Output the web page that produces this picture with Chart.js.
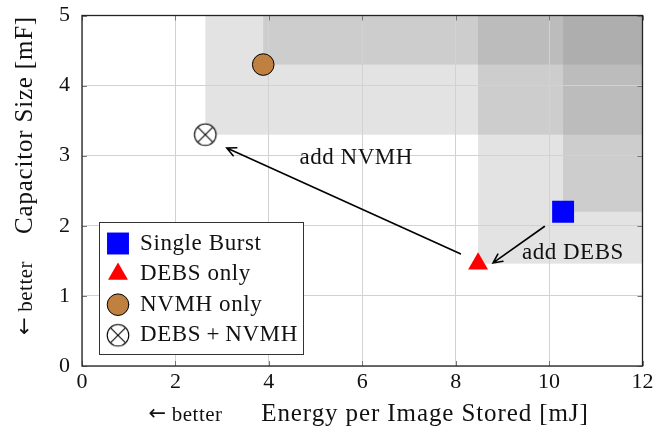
<!DOCTYPE html>
<html>
<head>
<meta charset="utf-8">
<script src="https://cdn.jsdelivr.net/npm/chart.js@4.4.1/dist/chart.umd.min.js"></script>
<style>
  html, body { margin: 0; padding: 0; background: #fff; }
  canvas { display: block; }
</style>
</head>
<body>
<canvas id="c" width="658" height="435"></canvas>
<script>
// Design points: energy per stored image (mJ) vs. capacitor size (mF)
const seriesLabels = ['Single Burst', 'DEBS only', 'NVMH only', 'DEBS\u2009+\u2009NVMH'];
const energyMJ     = [10.3, 8.48, 3.88, 2.64];
const capacitorMF  = [2.2, 1.46, 4.3, 3.3];

// Axis ticks
const xTickValues = [0, 2, 4, 6, 8, 10, 12];
const yTickValues = [0, 1, 2, 3, 4, 5];

// Annotation arrows (data coordinates) and their captions
const arrowTail = [[8.1, 1.6], [9.9, 1.99]];
const arrowHead = [[3.1, 3.11], [8.8, 1.47]];
const noteTexts = ['add NVMH', 'add DEBS'];
const noteX     = [5.87, 10.51];
const noteY     = [2.97, 1.61];

const SERIF = '"Liberation Serif", "Times New Roman", serif';
const ARROWFONT = '"DejaVu Sans", sans-serif';
const INK = '#111';

// Circle with a diagonal cross, used as a custom point style
function crossCircle(r) {
  const size = Math.ceil(2 * r + 4);
  const cv = document.createElement('canvas');
  cv.width = cv.height = size;
  const g = cv.getContext('2d');
  const c = size / 2;
  g.beginPath();
  g.arc(c, c, r, 0, Math.PI * 2);
  g.fillStyle = '#fff';
  g.fill();
  g.lineWidth = 1.1;
  g.strokeStyle = '#000';
  g.stroke();
  const d = r * Math.SQRT1_2;
  g.beginPath();
  g.moveTo(c - d, c - d); g.lineTo(c + d, c + d);
  g.moveTo(c + d, c - d); g.lineTo(c - d, c + d);
  g.stroke();
  return cv;
}

const markerStyles = [
  { pointStyle: 'rect',     radius: 15.5, bg: '#0000ff', border: '#0000ff', width: 0 },
  { pointStyle: 'triangle', radius: 11.5, bg: '#ff0000', border: '#ff0000', width: 0 },
  { pointStyle: 'circle',   radius: 10.8, bg: '#c0803f', border: '#000000', width: 1 },
  { pointStyle: crossCircle(10.8), radius: 11, bg: '#fff', border: '#000', width: 1 }
];

const datasets = seriesLabels.map((label, i) => ({
  label,
  data: [{ x: energyMJ[i], y: capacitorMF[i] }],
  pointStyle: markerStyles[i].pointStyle,
  pointRadius: markerStyles[i].radius,
  backgroundColor: markerStyles[i].bg,
  borderColor: markerStyles[i].border,
  borderWidth: markerStyles[i].width
}));

function drawMarker(ctx, st, x, y) {
  ctx.save();
  ctx.fillStyle = st.bg;
  ctx.strokeStyle = st.border;
  ctx.lineWidth = st.width;
  if (st.pointStyle === 'rect') {
    const h = st.radius * Math.SQRT1_2;
    ctx.fillRect(x - h, y - h, 2 * h, 2 * h);
  } else if (st.pointStyle === 'triangle') {
    const r = st.radius;
    ctx.beginPath();
    ctx.moveTo(x, y - r);
    ctx.lineTo(x + r * Math.sin(2 * Math.PI / 3), y - r * Math.cos(2 * Math.PI / 3));
    ctx.lineTo(x + r * Math.sin(4 * Math.PI / 3), y - r * Math.cos(4 * Math.PI / 3));
    ctx.closePath();
    ctx.fill();
  } else if (st.pointStyle === 'circle') {
    ctx.beginPath();
    ctx.arc(x, y, st.radius, 0, Math.PI * 2);
    ctx.fill();
    if (st.width) ctx.stroke();
  } else {
    const img = st.pointStyle;
    ctx.drawImage(img, x - img.width / 2, y - img.height / 2);
  }
  ctx.restore();
}

function drawArrow(ctx, x0, y0, x1, y1) {
  const ang = Math.atan2(y1 - y0, x1 - x0);
  const len = 10, spread = 0.45;
  ctx.beginPath();
  ctx.moveTo(x0, y0);
  ctx.lineTo(x1, y1);
  ctx.moveTo(x1 - len * Math.cos(ang - spread), y1 - len * Math.sin(ang - spread));
  ctx.lineTo(x1, y1);
  ctx.lineTo(x1 - len * Math.cos(ang + spread), y1 - len * Math.sin(ang + spread));
  ctx.stroke();
}

// "← better" hint: arrow glyph followed by the word, centred on (cx, base)
function drawBetter(ctx, cx, base) {
  ctx.save();
  ctx.textAlign = 'left';
  ctx.letterSpacing = '0px';
  ctx.font = '21px ' + ARROWFONT;
  const arrow = '\u2190';
  const wa = ctx.measureText(arrow).width;
  ctx.font = '21px ' + SERIF;
  ctx.letterSpacing = '0.5px';
  const word = ' better';
  const ww = ctx.measureText(word).width;
  let x0 = cx - (wa + ww) / 2;
  ctx.font = '21px ' + ARROWFONT;
  ctx.letterSpacing = '0px';
  ctx.fillText(arrow, x0, base - 1);
  ctx.font = '21px ' + SERIF;
  ctx.letterSpacing = '0.5px';
  ctx.fillText(word, x0 + wa, base);
  ctx.restore();
}

const decor = {
  id: 'decor',
  beforeDraw(chart) {
    const { ctx, scales: { x, y } } = chart;
    ctx.save();
    ctx.fillStyle = '#fff';
    ctx.fillRect(0, 0, chart.width, chart.height);
    // Dominated regions: everything above and to the right of each design point
    ctx.fillStyle = 'rgba(128,128,128,0.22)';
    const rx = x.getPixelForValue(x.max), ty = y.getPixelForValue(y.max);
    energyMJ.forEach((e, i) => {
      const px = x.getPixelForValue(e), py = y.getPixelForValue(capacitorMF[i]);
      ctx.fillRect(px, ty, rx - px, py - ty);
    });
    ctx.restore();
  },
  afterDatasetsDraw(chart) {
    const { ctx, chartArea: a, scales: { x, y } } = chart;
    ctx.save();
    // inward tick marks on all four sides
    ctx.strokeStyle = '#777';
    ctx.lineWidth = 1;
    const tl = 5;
    ctx.beginPath();
    xTickValues.forEach(v => {
      const px = Math.round(x.getPixelForValue(v)) + 0.5;
      ctx.moveTo(px, a.bottom); ctx.lineTo(px, a.bottom - tl);
      ctx.moveTo(px, a.top); ctx.lineTo(px, a.top + tl);
    });
    yTickValues.forEach(v => {
      const py = Math.round(y.getPixelForValue(v)) + 0.5;
      ctx.moveTo(a.left, py); ctx.lineTo(a.left + tl, py);
      ctx.moveTo(a.right, py); ctx.lineTo(a.right - tl, py);
    });
    ctx.stroke();
    // frame
    ctx.strokeStyle = '#222';
    ctx.lineWidth = 1.3;
    ctx.strokeRect(a.left, a.top, a.right - a.left, a.bottom - a.top);

    // arrows
    ctx.strokeStyle = '#000';
    ctx.lineWidth = 1.6;
    ctx.lineCap = 'round';
    arrowTail.forEach((t, i) => {
      const h = arrowHead[i];
      drawArrow(ctx, x.getPixelForValue(t[0]), y.getPixelForValue(t[1]),
                     x.getPixelForValue(h[0]), y.getPixelForValue(h[1]));
    });
    // captions
    ctx.fillStyle = INK;
    ctx.font = '23px ' + SERIF;
    ctx.letterSpacing = '0.5px';
    ctx.textAlign = 'center';
    ctx.textBaseline = 'middle';
    noteTexts.forEach((t, i) => {
      ctx.fillText(t, x.getPixelForValue(noteX[i]), y.getPixelForValue(noteY[i]));
    });

    // legend
    const lx = 99.5, ly = 222.5, lw = 204, lh = 132;
    ctx.fillStyle = '#fff';
    ctx.fillRect(lx, ly, lw, lh);
    ctx.strokeStyle = '#333';
    ctx.lineWidth = 1;
    ctx.strokeRect(lx, ly, lw, lh);
    ctx.font = '23px ' + SERIF;
    ctx.letterSpacing = '0.6px';
    ctx.textAlign = 'left';
    ctx.textBaseline = 'middle';
    chart.data.datasets.forEach((ds, i) => {
      const ry = 243.5 + i * 30.6;
      drawMarker(ctx, markerStyles[i], 118, ry);
      ctx.fillStyle = INK;
      ctx.fillText(ds.label, 140, ry);
    });
    ctx.restore();
  },
  afterDraw(chart) {
    const { ctx } = chart;
    ctx.save();
    ctx.fillStyle = INK;
    ctx.textBaseline = 'alphabetic';
    ctx.textAlign = 'center';
    // x axis title
    ctx.font = '25px ' + SERIF;
    ctx.letterSpacing = '0.9px';
    ctx.fillText('Energy per Image Stored [mJ]', 425, 421);
    drawBetter(ctx, 185.5, 421);
    // y axis title
    ctx.translate(32, 0);
    ctx.rotate(-Math.PI / 2);
    ctx.font = '25px ' + SERIF;
    ctx.letterSpacing = '0.8px';
    ctx.fillText('Capacitor Size [mF]', -125, 0);
    drawBetter(ctx, -298, 0);
    ctx.restore();
  }
};

function trimPadding(s) {
  s.paddingTop = 0; s.paddingBottom = 0; s.paddingLeft = 0; s.paddingRight = 0;
}

new Chart(document.getElementById('c'), {
  type: 'scatter',
  data: { datasets },
  options: {
    responsive: false,
    animation: false,
    events: [],
    layout: { padding: { top: 12, right: 12, left: 0, bottom: 0 } },
    plugins: { legend: { display: false }, tooltip: { enabled: false } },
    scales: {
      x: {
        type: 'linear', min: 0, max: 12,
        afterBuildTicks: s => { s.ticks = xTickValues.map(v => ({ value: v })); },
        afterFit: s => { s.height = 69; trimPadding(s); },
        ticks: { color: INK, font: { family: SERIF, size: 22 }, padding: 3, maxRotation: 0 },
        grid: { color: '#d2d2d2', lineWidth: 1, drawTicks: false },
        border: { display: false }
      },
      y: {
        type: 'linear', min: 0, max: 5,
        afterBuildTicks: s => { s.ticks = yTickValues.map(v => ({ value: v })); },
        afterFit: s => { s.width = 82; trimPadding(s); },
        ticks: { color: INK, font: { family: SERIF, size: 22 }, padding: 12 },
        grid: { color: '#d2d2d2', lineWidth: 1, drawTicks: false },
        border: { display: false }
      }
    }
  },
  plugins: [decor]
});
</script>
</body>
</html>
